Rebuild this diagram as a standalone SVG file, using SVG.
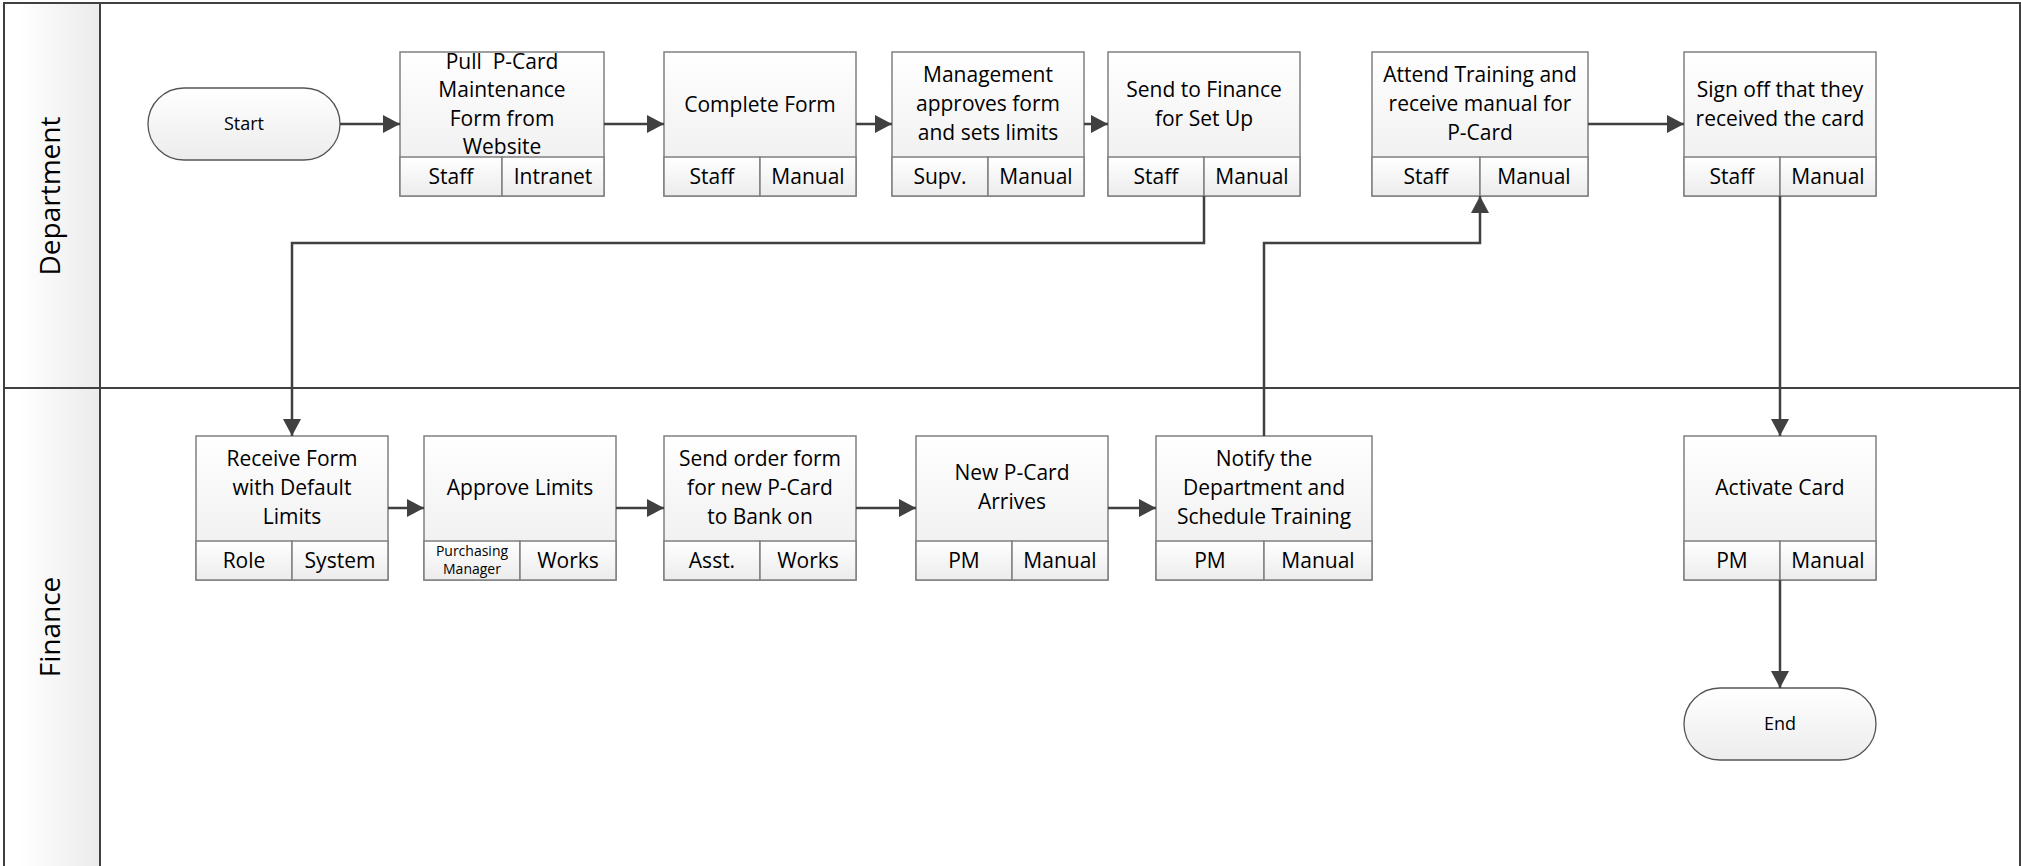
<svg xmlns="http://www.w3.org/2000/svg" width="2021" height="866" viewBox="0 0 2021 866">
<defs>
<linearGradient id="gBox" x1="0" y1="0" x2="0" y2="1"><stop offset="0" stop-color="#ffffff"/><stop offset="1" stop-color="#ececec"/></linearGradient>
<linearGradient id="gHead" x1="0" y1="0" x2="1" y2="0"><stop offset="0.15" stop-color="#ffffff"/><stop offset="1" stop-color="#ebebeb"/></linearGradient>
<marker id="arr" markerUnits="userSpaceOnUse" markerWidth="18" markerHeight="18" refX="17" refY="9" orient="auto"><path d="M0,0 L17,9 L0,18 z" fill="#404040"/></marker>
</defs>
<style>
.lane{fill:none;stroke:#404040;stroke-width:2}
.head{fill:url(#gHead);stroke:#404040;stroke-width:2}
.box{fill:url(#gBox);stroke:#808080;stroke-width:1.5}
.term{fill:url(#gBox);stroke:#555555;stroke-width:1.3}
.sep{stroke:#707070;stroke-width:1.5;fill:none}
.conn path{fill:none;stroke:#404040;stroke-width:2.5;marker-end:url(#arr)}
text{font-family:"Open Sans","Noto Sans",sans-serif;fill:#000;text-anchor:middle;white-space:pre}
.t{font-size:21px}
.s{font-size:18px}
.sm{font-size:14px}
.ln{font-size:28px}
</style>
<rect x="0" y="0" width="2021" height="866" fill="#ffffff"/>
<g id="lanes">
<rect class="head" x="4" y="3" width="96" height="385"/>
<rect class="head" x="4" y="388" width="96" height="480"/>
<rect class="lane" x="4" y="3" width="2016" height="865"/>
<line class="lane" x1="4" y1="388" x2="2020" y2="388"/>
<text class="ln" transform="translate(60,196) rotate(-90)">Department</text>
<text class="ln" transform="translate(60,627) rotate(-90)">Finance</text>
</g>
<g id="start">
<rect class="term" x="148" y="88" width="192" height="72" rx="36" ry="36"/>
<text class="s" x="244" y="130">Start</text>
</g>
<g id="pull">
<rect class="box" x="400" y="52" width="204" height="144"/>
<rect class="box" x="400" y="157" width="102" height="39"/>
<rect class="box" x="502" y="157" width="102" height="39"/>
<text class="t" x="502" y="69">Pull  P-Card</text>
<text class="t" x="502" y="97">Maintenance</text>
<text class="t" x="502" y="126">Form from</text>
<text class="t" x="502" y="154">Website</text>
<text class="t" x="451" y="184">Staff</text>
<text class="t" x="553" y="184">Intranet</text>
</g>
<g id="complete">
<rect class="box" x="664" y="52" width="192" height="144"/>
<rect class="box" x="664" y="157" width="96" height="39"/>
<rect class="box" x="760" y="157" width="96" height="39"/>
<text class="t" x="760" y="112">Complete Form</text>
<text class="t" x="712" y="184">Staff</text>
<text class="t" x="808" y="184">Manual</text>
</g>
<g id="management">
<rect class="box" x="892" y="52" width="192" height="144"/>
<rect class="box" x="892" y="157" width="96" height="39"/>
<rect class="box" x="988" y="157" width="96" height="39"/>
<text class="t" x="988" y="82">Management</text>
<text class="t" x="988" y="111">approves form</text>
<text class="t" x="988" y="140">and sets limits</text>
<text class="t" x="940" y="184">Supv.</text>
<text class="t" x="1036" y="184">Manual</text>
</g>
<g id="sendfinance">
<rect class="box" x="1108" y="52" width="192" height="144"/>
<rect class="box" x="1108" y="157" width="96" height="39"/>
<rect class="box" x="1204" y="157" width="96" height="39"/>
<text class="t" x="1204" y="97">Send to Finance</text>
<text class="t" x="1204" y="126">for Set Up</text>
<text class="t" x="1156" y="184">Staff</text>
<text class="t" x="1252" y="184">Manual</text>
</g>
<g id="attend">
<rect class="box" x="1372" y="52" width="216" height="144"/>
<rect class="box" x="1372" y="157" width="108" height="39"/>
<rect class="box" x="1480" y="157" width="108" height="39"/>
<text class="t" x="1480" y="82">Attend Training and</text>
<text class="t" x="1480" y="111">receive manual for</text>
<text class="t" x="1480" y="140">P-Card</text>
<text class="t" x="1426" y="184">Staff</text>
<text class="t" x="1534" y="184">Manual</text>
</g>
<g id="signoff">
<rect class="box" x="1684" y="52" width="192" height="144"/>
<rect class="box" x="1684" y="157" width="96" height="39"/>
<rect class="box" x="1780" y="157" width="96" height="39"/>
<text class="t" x="1780" y="97">Sign off that they</text>
<text class="t" x="1780" y="126">received the card</text>
<text class="t" x="1732" y="184">Staff</text>
<text class="t" x="1828" y="184">Manual</text>
</g>
<g id="receive">
<rect class="box" x="196" y="436" width="192" height="144"/>
<rect class="box" x="196" y="541" width="96" height="39"/>
<rect class="box" x="292" y="541" width="96" height="39"/>
<text class="t" x="292" y="466">Receive Form</text>
<text class="t" x="292" y="495">with Default</text>
<text class="t" x="292" y="524">Limits</text>
<text class="t" x="244" y="568">Role</text>
<text class="t" x="340" y="568">System</text>
</g>
<g id="approve">
<rect class="box" x="424" y="436" width="192" height="144"/>
<rect class="box" x="424" y="541" width="96" height="39"/>
<rect class="box" x="520" y="541" width="96" height="39"/>
<text class="t" x="520" y="495">Approve Limits</text>
<text class="sm" x="472" y="556">Purchasing</text>
<text class="sm" x="472" y="574">Manager</text>
<text class="t" x="568" y="568">Works</text>
</g>
<g id="sendorder">
<rect class="box" x="664" y="436" width="192" height="144"/>
<rect class="box" x="664" y="541" width="96" height="39"/>
<rect class="box" x="760" y="541" width="96" height="39"/>
<text class="t" x="760" y="466">Send order form</text>
<text class="t" x="760" y="495">for new P-Card</text>
<text class="t" x="760" y="524">to Bank on</text>
<text class="t" x="712" y="568">Asst.</text>
<text class="t" x="808" y="568">Works</text>
</g>
<g id="newcard">
<rect class="box" x="916" y="436" width="192" height="144"/>
<rect class="box" x="916" y="541" width="96" height="39"/>
<rect class="box" x="1012" y="541" width="96" height="39"/>
<text class="t" x="1012" y="480">New P-Card</text>
<text class="t" x="1012" y="509">Arrives</text>
<text class="t" x="964" y="568">PM</text>
<text class="t" x="1060" y="568">Manual</text>
</g>
<g id="notify">
<rect class="box" x="1156" y="436" width="216" height="144"/>
<rect class="box" x="1156" y="541" width="108" height="39"/>
<rect class="box" x="1264" y="541" width="108" height="39"/>
<text class="t" x="1264" y="466">Notify the</text>
<text class="t" x="1264" y="495">Department and</text>
<text class="t" x="1264" y="524">Schedule Training</text>
<text class="t" x="1210" y="568">PM</text>
<text class="t" x="1318" y="568">Manual</text>
</g>
<g id="activate">
<rect class="box" x="1684" y="436" width="192" height="144"/>
<rect class="box" x="1684" y="541" width="96" height="39"/>
<rect class="box" x="1780" y="541" width="96" height="39"/>
<text class="t" x="1780" y="495">Activate Card</text>
<text class="t" x="1732" y="568">PM</text>
<text class="t" x="1828" y="568">Manual</text>
</g>
<g id="end">
<rect class="term" x="1684" y="688" width="192" height="72" rx="36" ry="36"/>
<text class="s" x="1780" y="730">End</text>
</g>
<g id="connectors" class="conn">
<path d="M340,124 H400"/>
<path d="M604,124 H664"/>
<path d="M856,124 H892"/>
<path d="M1084,124 H1108"/>
<path d="M1204,196 V243 H292 V436"/>
<path d="M1264,436 V243 H1480 V196"/>
<path d="M1588,124 H1684"/>
<path d="M1780,196 V436"/>
<path d="M1780,580 V688"/>
<path d="M388,508 H424"/>
<path d="M616,508 H664"/>
<path d="M856,508 H916"/>
<path d="M1108,508 H1156"/>
</g>
</svg>
